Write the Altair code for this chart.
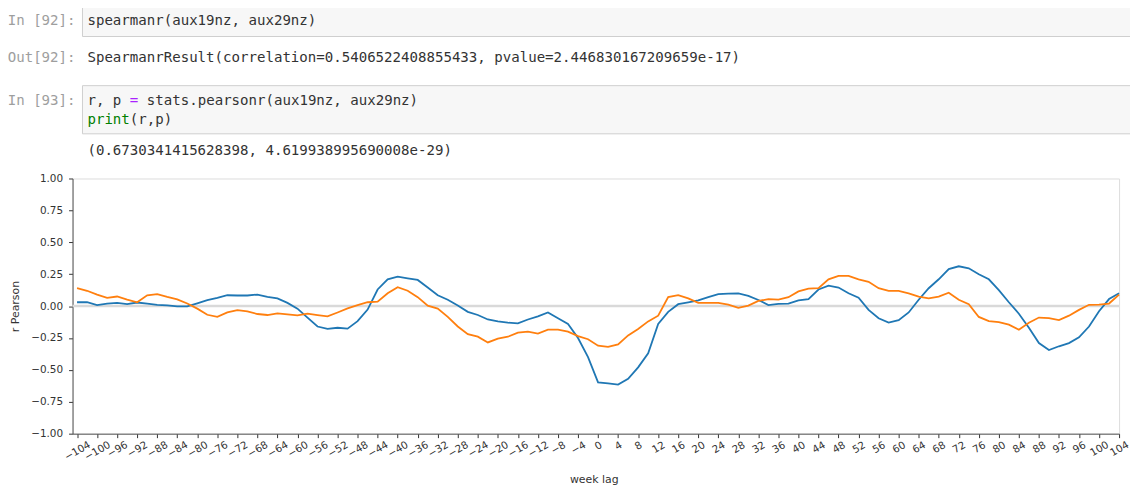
import altair as alt
import pandas as pd

# ---- data ----
weeks = list(range(-104, 105, 2))
blue_r = [0.03, 0.03, 0.008, 0.02, 0.025, 0.015, 0.028, 0.02, 0.01, 0.005, -0.002, -0.003,
          0.022, 0.047, 0.065, 0.085, 0.083, 0.083, 0.09, 0.072, 0.06, 0.025, -0.02,
          -0.09, -0.16, -0.178, -0.17, -0.177, -0.118, -0.027, 0.13, 0.21, 0.23, 0.218, 0.205,
          0.145, 0.085, 0.05, 0.005, -0.045, -0.07, -0.105, -0.12, -0.13, -0.135, -0.105, -0.08,
          -0.05, -0.095, -0.14, -0.25, -0.40,
          -0.598, -0.605, -0.615, -0.57, -0.48, -0.37, -0.14, -0.045, 0.015, 0.03, 0.045, 0.07,
          0.094, 0.097, 0.1, 0.08, 0.048, 0.008, 0.017, 0.02, 0.045, 0.055, 0.13, 0.16, 0.145, 0.1,
          0.065, -0.03, -0.095, -0.13, -0.11, -0.05, 0.05, 0.14, 0.21, 0.29, 0.312, 0.296, 0.25,
          0.21, 0.125, 0.03, -0.06, -0.17, -0.29, -0.345, -0.315, -0.29, -0.245, -0.16, -0.04,
          0.055, 0.1]
orange_r = [0.14, 0.12, 0.09, 0.065, 0.075, 0.05, 0.03, 0.085, 0.094, 0.072, 0.053, 0.02,
            -0.02, -0.068, -0.085, -0.05, -0.032, -0.042, -0.062, -0.07, -0.058, -0.065, -0.072,
            -0.06, -0.07, -0.08, -0.05, -0.018, 0.008, 0.03, 0.035, 0.1, 0.148, 0.12, 0.07,
            0.003, -0.02, -0.085, -0.16, -0.22, -0.24, -0.285, -0.255, -0.24, -0.208, -0.2,
            -0.215, -0.185, -0.185, -0.2, -0.235, -0.26,
            -0.31, -0.32, -0.3, -0.23, -0.18, -0.12, -0.075, 0.07, 0.085, 0.06, 0.025, 0.025,
            0.025, 0.012, -0.014, 0.004, 0.04, 0.055, 0.05, 0.07, 0.115, 0.137, 0.14, 0.21,
            0.237, 0.236,
            0.21, 0.19, 0.14, 0.12, 0.12, 0.1, 0.075, 0.06, 0.075, 0.105, 0.05, 0.015, -0.085,
            -0.118, -0.125, -0.145, -0.185, -0.13, -0.09, -0.095, -0.11, -0.075, -0.03, 0.01,
            0.012, 0.02, 0.09]
series_names = ["aux19nz", "aux29nz"]
series_colors = ["#1f77b4", "#ff7f0e"]
x_ticks = list(range(-104, 105, 4))
y_ticks = [-1.0, -0.75, -0.5, -0.25, 0.0, 0.25, 0.5, 0.75, 1.0]

cell1_prompt = "In [92]:"
cell1_code = "spearmanr(aux19nz, aux29nz)"
out1_prompt = "Out[92]:"
out1_text = "SpearmanrResult(correlation=0.5406522408855433, pvalue=2.446830167209659e-17)"
cell2_prompt = "In [93]:"
cell2_line1 = ["r, p", "=", "stats.pearsonr(aux19nz, aux29nz)"]
cell2_line2 = ["print", "(r,p)"]
out2_text = "(0.6730341415628398, 4.619938995690008e-29)"

df = pd.DataFrame({
    "week": weeks * 2,
    "r": blue_r + orange_r,
    "series": [series_names[0]] * len(weeks) + [series_names[1]] * len(weeks),
})

W, H = 1054, 257
MONO = "DejaVu Sans Mono"
FS = 14.2
CW = FS * 0.602
X0 = 15  # code start (view coords)

one = alt.Data(values=[{"k": 1}])


def txt(s, x, y, color="#333333", align="left", font=MONO, size=FS):
    return alt.Chart(one).mark_text(
        text=s, align=align, baseline="middle", font=font, fontSize=size, color=color
    ).encode(x=alt.value(x), y=alt.value(y))


def box(y1, y2):
    return alt.Chart(one).mark_rect(fill="#f7f7f7", stroke="#cfcfcf", strokeWidth=1).encode(
        x=alt.value(10), x2=alt.value(W + 20), y=alt.value(y1), y2=alt.value(y2)
    )


prompt_col = "#9e9e9e"
layers = [
    box(-173.5, -143),
    box(-93.5, -45),
    txt(cell1_prompt, 3, -159, prompt_col, "right"),
    txt(cell1_code, X0, -159),
    txt(out1_prompt, 3, -121, prompt_col, "right"),
    txt(out1_text, X0, -121),
    txt(cell2_prompt, 3, -78, prompt_col, "right"),
    txt(cell2_line1[0], X0, -78),
    txt(cell2_line1[1], X0 + 5 * CW, -78, "#aa22ff"),
    txt(cell2_line1[2], X0 + 7 * CW, -78),
    txt(cell2_line2[0], X0, -59, "#008000"),
    txt(cell2_line2[1], X0 + 5 * CW, -59),
    txt(out2_text, X0, -28),
]

pad_cond = {
    "condition": [
        {"test": "datum.value <= -100", "value": 13.2},
        {"test": "datum.value <= -12", "value": 11.6},
        {"test": "datum.value < 0", "value": 10.0},
        {"test": "datum.value >= 100", "value": 11.1},
        {"test": "datum.value >= 12", "value": 9.5},
    ],
    "value": 7.9,
}

x_axis = alt.Axis(values=x_ticks, format="d", labelAngle=-30, labelAlign="center",
                  labelBaseline="middle", labelPadding=pad_cond, labelOverlap=False,
                  labelFlush=False, labelBound=False, labelFontSize=10.3,
                  labelFont="DejaVu Sans", labelColor="#333333", tickSize=4,
                  tickColor="#333333", domainColor="#555555", grid=False,
                  title="week lag", titleFont="DejaVu Sans", titleFontSize=11,
                  titleFontWeight="normal", titleColor="#333333",
                  titleX=525, titleY=46, titleBaseline="middle", titleAlign="center")
y_axis = alt.Axis(values=y_ticks, format=".2f", labelFontSize=10.5, labelOverlap=False,
                  labelFont="DejaVu Sans", labelColor="#333333", labelPadding=6,
                  tickSize=4, tickColor="#333333", domainColor="#555555", grid=False,
                  title="r Pearson", titleFont="DejaVu Sans", titleFontSize=11,
                  titleFontWeight="normal", titleColor="#333333", titleAngle=270,
                  titleX=-57, titleY=H / 2, titleBaseline="middle", titleAlign="center")
y_scale = alt.Scale(domain=[-1, 1], nice=False, zero=False)

zero = alt.Chart(one).mark_rule(color="#d9d9d9", strokeWidth=2.5).encode(
    y=alt.YDatum(0, type="quantitative", scale=y_scale, axis=y_axis)
)

lines = alt.Chart(df).mark_line(strokeWidth=1.8).encode(
    x=alt.X("week:Q",
            scale=alt.Scale(domain=[-104.9, 104], nice=False, zero=False),
            axis=x_axis),
    y=alt.Y("r:Q", scale=y_scale, axis=y_axis),
    color=alt.Color("series:N", scale=alt.Scale(domain=series_names, range=series_colors),
                    legend=None),
)

chart = alt.layer(*layers, zero, lines).properties(
    width=W, height=H,
    padding={"left": 65, "top": 170, "right": 11, "bottom": 52},
    autosize=alt.AutoSizeParams(type="none"),
).configure_view(stroke="#555555", strokeWidth=1).configure(background="white")

chart.save("out.html", embed_options={"renderer": "svg", "actions": False})
